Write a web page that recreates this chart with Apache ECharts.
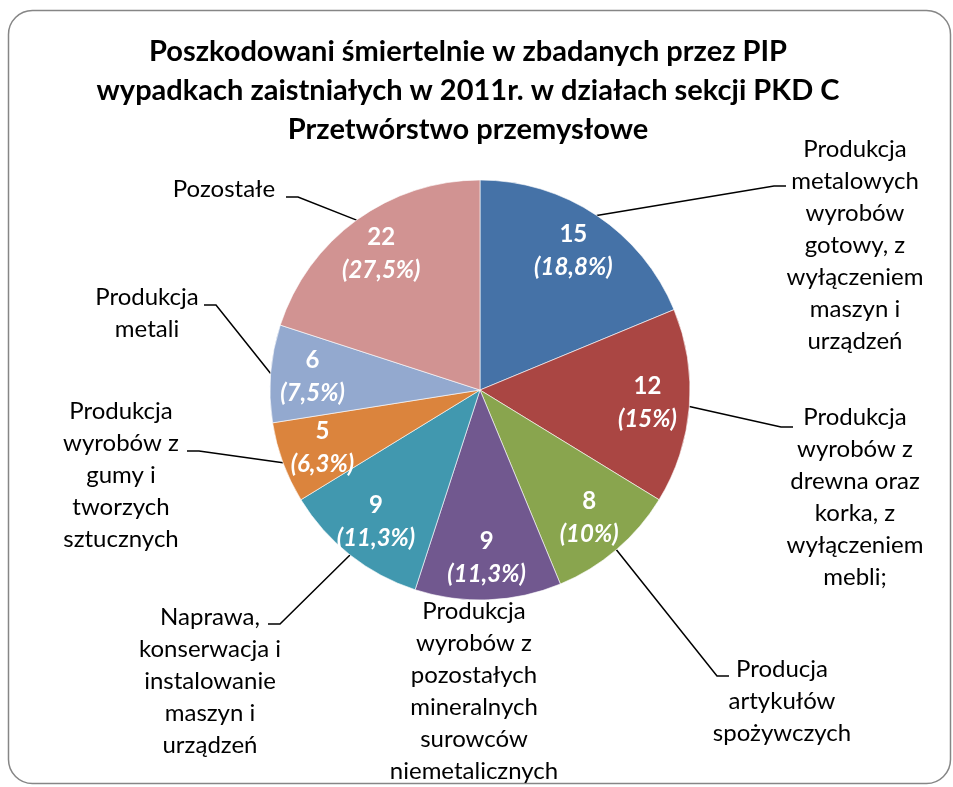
<!DOCTYPE html>
<html>
<head>
<meta charset="utf-8">
<script src="https://cdn.jsdelivr.net/npm/echarts@6/dist/echarts.min.js"></script>
<style>
  html, body { margin: 0; padding: 0; background: #fff; }
  #chart { width: 953px; height: 787px; }
</style>
</head>
<body>
<div id="chart"></div>
<script>
// categories, in the order the slices run clockwise from the top
const categories = [
  'Produkcja\nmetalowych\nwyrobów\ngotowy, z\nwyłączeniem\nmaszyn i\nurządzeń',
  'Produkcja\nwyrobów z\ndrewna oraz\nkorka, z\nwyłączeniem\nmebli;',
  'Producja\nartykułów\nspożywczych',
  'Produkcja\nwyrobów z\npozostałych\nmineralnych\nsurowców\nniemetalicznych',
  'Naprawa,\nkonserwacja i\ninstalowanie\nmaszyn i\nurządzeń',
  'Produkcja\nwyrobów z\ngumy i\ntworzych\nsztucznych',
  'Produkcja\nmetali',
  'Pozostałe'
]
// slice sizes as drawn (Pozostałe covers 72deg, i.e. 16 of 80, although its label says 22)
const sliceValues = [15, 12, 8, 9, 9, 5, 6, 16]
// numbers printed on the slices
const labelValues = [15, 12, 8, 9, 9, 5, 6, 22]
const labelPercents = ['18,8%', '15%', '10%', '11,3%', '11,3%', '6,3%', '7,5%', '27,5%']

const colors = ['#4572A7', '#AA4643', '#89A54E', '#71588F', '#4198AF', '#DB843D', '#93A9CF', '#D19392']

// outer label placement: text centre x, text top y, leader end x, leader end y
const labelSpots = [
  [855, 133, 786, 186],
  [855, 401, 793, 427],
  [782, 653, 729, 676],
  [474, 595, null, null],
  [210, 601, 268, 624],
  [121, 395, 187, 451],
  [147, 281, 204, 305],
  [224, 173, 286, 197]
]

const chart = echarts.init(document.getElementById('chart'))
const font = 'Lato, "Open Sans", sans-serif'

const option = {
  animation: false,
  title: {
    text: 'Poszkodowani śmiertelnie w zbadanych przez PIP\nwypadkach zaistniałych w 2011r. w działach sekcji PKD C\nPrzetwórstwo przemysłowe',
    left: 468,
    top: 32,
    textAlign: 'center',
    padding: 0,
    textStyle: {
      fontFamily: font,
      fontWeight: 'bold',
      fontSize: 29,
      lineHeight: 39,
      color: '#000'
    }
  },
  graphic: [
    {
      type: 'rect',
      shape: { x: 8.5, y: 10.5, width: 942, height: 773, r: 24 },
      style: { fill: 'none', stroke: '#868686', lineWidth: 1.5 }
    }
  ],
  series: [
    {
      type: 'pie',
      center: [480, 390],
      radius: 210,
      startAngle: 90,
      clockwise: true,
      avoidLabelOverlap: false,
      itemStyle: {
        borderColor: 'rgba(255,255,255,0.6)',
        borderWidth: 1
      },
      emphasis: { disabled: true },
      label: {
        show: true,
        position: 'outside',
        color: '#000',
        fontFamily: font,
        fontSize: 24,
        lineHeight: 32
      },
      labelLine: {
        show: true,
        length: 15,
        length2: 15,
        lineStyle: { color: '#000', width: 1.5 }
      },
      labelLayout: function (params) {
        const s = labelSpots[params.dataIndex]
        const out = { x: s[0], y: s[1], align: 'center', verticalAlign: 'top' }
        const pts = params.labelLinePoints
        if (pts && s[2] !== null) {
          const start = pts[0].slice()
          const dir = s[2] < start[0] ? 1 : -1
          out.labelLinePoints = [start, [s[2] + dir * 12, s[3]], [s[2], s[3]]]
        }
        return out
      },
      data: sliceValues.map(function (v, i) {
        const item = { value: v, name: categories[i], itemStyle: { color: colors[i] } }
        if (labelSpots[i][2] === null) item.labelLine = { show: false }
        return item
      })
    },
    {
      // value + percent printed inside each slice
      type: 'pie',
      silent: true,
      center: [480, 390],
      radius: [120, 210],
      startAngle: 90,
      clockwise: true,
      avoidLabelOverlap: false,
      itemStyle: { color: 'rgba(0,0,0,0)', borderWidth: 0 },
      label: {
        show: true,
        position: 'inside',
        formatter: function (p) {
          return '{v|' + labelValues[p.dataIndex] + '}\n{p|(' + labelPercents[p.dataIndex] + ')}'
        },
        rich: {
          v: { color: '#fff', fontFamily: font, fontWeight: 'bold', fontSize: 24, lineHeight: 33 },
          p: { color: '#fff', fontFamily: font, fontWeight: 'bold', fontStyle: 'italic', fontSize: 24, lineHeight: 33 }
        }
      },
      labelLine: { show: false },
      data: sliceValues.map(function (v, i) {
        return { value: v, name: categories[i] }
      })
    }
  ]
}

chart.setOption(option)
</script>
</body>
</html>
